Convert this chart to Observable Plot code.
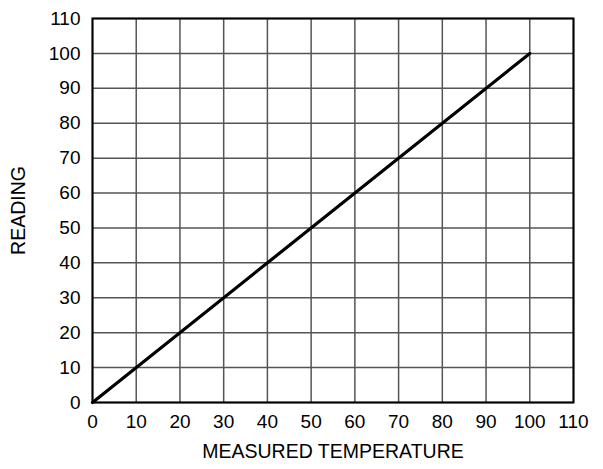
<!DOCTYPE html>
<html>
<head>
<meta charset="utf-8">
<script src="https://cdn.jsdelivr.net/npm/d3@7"></script>
<script src="https://cdn.jsdelivr.net/npm/@observablehq/plot@0.6"></script>
<style>
  html, body { margin: 0; padding: 0; background: #fff; }
  #chart svg { display: block; }
</style>
</head>
<body>
<div id="chart"></div>
<script>
// Calibration line: instrument reading vs. measured temperature
const measured = [0, 100];
const reading = [0, 100];
const tickValues = [0, 10, 20, 30, 40, 50, 60, 70, 80, 90, 100, 110];

const data = measured.map((m, i) => ({measured: m, reading: reading[i]}));

const chart = Plot.plot({
  width: 603,
  height: 469,
  marginLeft: 92,
  marginRight: 30,
  marginTop: 18,
  marginBottom: 67,
  style: {fontFamily: "'Liberation Sans', Arial, sans-serif", fontSize: "19px", color: "#000", background: "#fff"},
  x: {domain: [0, 110], label: null, axis: null},
  y: {domain: [0, 110], label: null, axis: null},
  marks: [
    Plot.gridX(tickValues, {stroke: "#555", strokeOpacity: 1, strokeWidth: 1.5}),
    Plot.gridY(tickValues, {stroke: "#555", strokeOpacity: 1, strokeWidth: 1.5}),
    Plot.frame({stroke: "#000", strokeWidth: 2}),
    // tick labels
    Plot.text(tickValues, {x: (d) => d, frameAnchor: "bottom", lineAnchor: "top", dy: 12, text: (d) => String(d), fontSize: 19, fill: "#000"}),
    Plot.text(tickValues, {y: (d) => d, frameAnchor: "left", textAnchor: "end", dx: -12, text: (d) => String(d), fontSize: 19, fill: "#000"}),
    Plot.line(data, {x: "measured", y: "reading", stroke: "#000", strokeWidth: 3.2}),
    Plot.text(["MEASURED TEMPERATURE"], {frameAnchor: "bottom", dy: 55, fontSize: 19.5}),
    Plot.text(["READING"], {frameAnchor: "left", textAnchor: "middle", dx: -74, rotate: -90, fontSize: 19.5})
  ]
});

document.getElementById("chart").appendChild(chart);
</script>
</body>
</html>
